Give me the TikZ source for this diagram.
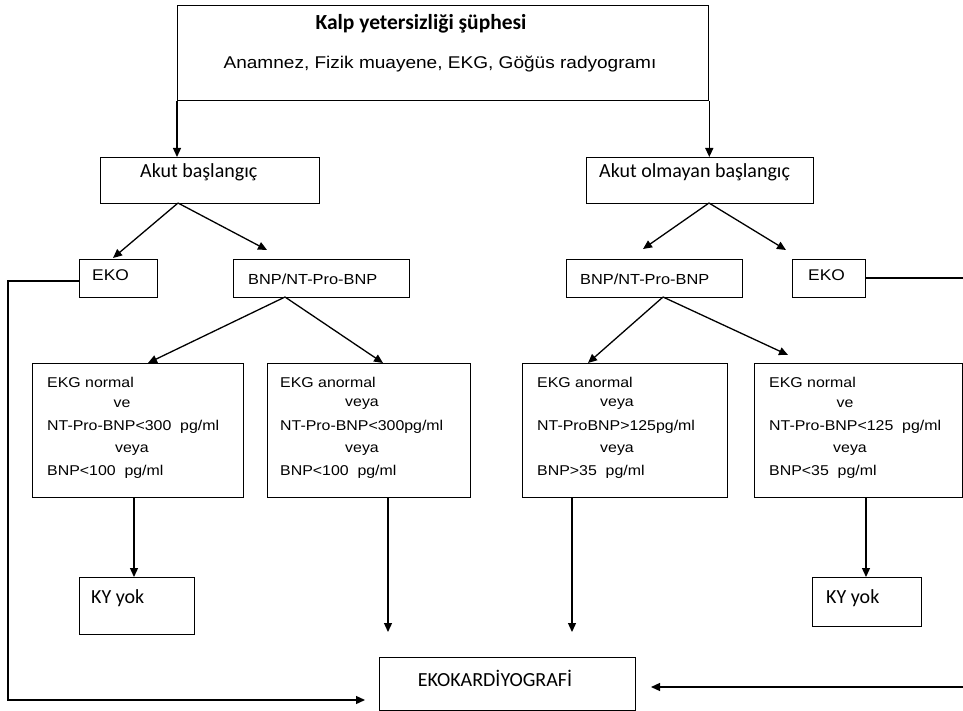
\documentclass[tikz,border=0pt]{standalone}
\usepackage{fontspec}
\setmainfont[FakeStretch=1.12]{Liberation Sans}
\newfontfamily\calfont{Carlito}
\usetikzlibrary{arrows.meta}
\begin{document}
\begin{tikzpicture}[x=1pt,y=-1pt,
  box/.style={draw, line width=1.3pt, inner sep=0pt, anchor=north west},
  arr/.style={line width=1.3pt, -{Triangle[length=9pt,width=8pt]}},
  txt/.style={inner sep=0pt, font=\fontsize{14.2}{16}\selectfont},
  ctxt/.style={inner sep=0pt, font=\calfont\fontsize{20}{22}\selectfont},
]
\useasboundingbox (0,0) rectangle (963,711);
\clip (0,0) rectangle (963,711);

% boxes
\node[box, minimum width=531pt, minimum height=95pt] (top) at (177,5) {};
\node[box, minimum width=219pt, minimum height=46pt] (akut) at (100,157) {};
\node[box, minimum width=227pt, minimum height=46pt] (nakut) at (586,157) {};
\node[box, minimum width=78pt, minimum height=38pt] (ekoL) at (79,259) {};
\node[box, minimum width=176pt, minimum height=38pt] (bnpL) at (233,259) {};
\node[box, minimum width=176pt, minimum height=38pt] (bnpR) at (566,259) {};
\node[box, minimum width=73pt, minimum height=38pt] (ekoR) at (792,259) {};
\node[box, minimum width=211pt, minimum height=134pt] (b1) at (32,363) {};
\node[box, minimum width=203pt, minimum height=134pt] (b2) at (267,363) {};
\node[box, minimum width=205pt, minimum height=134pt] (b3) at (522,363) {};
\node[box, minimum width=208pt, minimum height=134pt] (b4) at (754,363) {};
\node[box, minimum width=115pt, minimum height=57pt] (kyL) at (79,577) {};
\node[box, minimum width=109pt, minimum height=49pt] (kyR) at (812,577) {};
\node[box, minimum width=256pt, minimum height=53pt] (echo) at (379,657) {};

% texts
\node[inner sep=0pt, font=\calfont\bfseries\fontsize{21.5}{24}\selectfont] (tTitle) at (421,24) {Kalp yetersizliği şüphesi};
\node[inner sep=0pt, font=\fontsize{17}{20}\selectfont] (tAnam) at (440,64) {Anamnez, Fizik muayene, EKG, Göğüs radyogramı};
\node[ctxt, anchor=west] (tAkut) at (140,172) {Akut başlangıç};
\node[ctxt, anchor=west] (tNakut) at (599,172) {Akut olmayan başlangıç};
\node[txt, anchor=west, font=\fontsize{15.5}{18}\selectfont] (tEkoL) at (92,275) {EKO};
\node[txt, anchor=west, font=\fontsize{14.6}{17}\selectfont] (tBnpL) at (248,279) {BNP/NT-Pro-BNP};
\node[txt, anchor=west, font=\fontsize{14.6}{17}\selectfont] (tBnpR) at (580,279) {BNP/NT-Pro-BNP};
\node[txt, anchor=west, font=\fontsize{15.5}{18}\selectfont] (tEkoR) at (808,275) {EKO};

\node[txt, anchor=west] (b1a) at (47,382) {EKG normal};
\node[txt] (b1b) at (122,404) {ve};
\node[txt, anchor=west] (b1c) at (47,427) {NT-Pro-BNP<300\ \ pg/ml};
\node[txt] (b1d) at (132,450) {veya};
\node[txt, anchor=west] (b1e) at (47,472) {BNP<100\ \ pg/ml};

\node[txt, anchor=west] (b2a) at (280,382) {EKG anormal};
\node[txt] (b2b) at (362,404) {veya};
\node[txt, anchor=west] (b2c) at (280,427) {NT-Pro-BNP<300pg/ml};
\node[txt] (b2d) at (362,450) {veya};
\node[txt, anchor=west] (b2e) at (280,472) {BNP<100\ \ pg/ml};

\node[txt, anchor=west] (b3a) at (537,382) {EKG anormal};
\node[txt] (b3b) at (617,404) {veya};
\node[txt, anchor=west] (b3c) at (537,427) {NT-ProBNP>125pg/ml};
\node[txt] (b3d) at (617,450) {veya};
\node[txt, anchor=west] (b3e) at (537,472) {BNP>35\ \ pg/ml};

\node[txt, anchor=west] (b4a) at (769,382) {EKG normal};
\node[txt] (b4b) at (845,404) {ve};
\node[txt, anchor=west] (b4c) at (769,427) {NT-Pro-BNP<125\ \ pg/ml};
\node[txt] (b4d) at (850,450) {veya};
\node[txt, anchor=west] (b4e) at (769,472) {BNP<35\ \ pg/ml};

\node[ctxt, anchor=west] (tKyL) at (91,598) {KY yok};
\node[ctxt, anchor=west] (tKyR) at (826,598) {KY yok};
\node[ctxt] (tEcho) at (495,678) {EKOKARDİYOGRAFİ};

% helper coordinates
\coordinate (aL) at (178,203);
\coordinate (aLl) at (113,258);
\coordinate (aLr) at (267,250);
\coordinate (aR) at (709,203);
\coordinate (aRl) at (643,249);
\coordinate (aRr) at (786,250);
\coordinate (pL) at (285,297);
\coordinate (pLl) at (148,363);
\coordinate (pLr) at (383,363);
\coordinate (pR) at (663,297);
\coordinate (pRl) at (588,363);
\coordinate (pRr) at (788,355);
\coordinate (d2) at (388,632);
\coordinate (d3) at (572,632);
\coordinate (eL) at (8,0);
\coordinate (eLt) at (365,700);
\coordinate (eR) at (975,0);
\coordinate (eRt) at (651,687);

% connectors
\draw[arr] (top.south west) -- (top.south west |- akut.north);
\draw[arr] (top.south east) -- (top.south east |- nakut.north);
\draw[arr] (aL) -- (aLl);
\draw[arr] (aL) -- (aLr);
\draw[arr] (aR) -- (aRl);
\draw[arr] (aR) -- (aRr);
\draw[arr] (pL) -- (pLl);
\draw[arr] (pL) -- (pLr);
\draw[arr] (pR) -- (pRl);
\draw[arr] (pR) -- (pRr);
\draw[arr] (b1.south -| 134,0) -- (kyL.north -| 134,0);
\draw[arr] (b2.south -| d2) -- (d2);
\draw[arr] (b3.south -| d3) -- (d3);
\draw[arr] (b4.south -| 866,0) -- (kyR.north -| 866,0);
\draw[arr] (ekoL.west |- 0,281) -- (eL |- 0,281) -- (eL |- eLt) -- (eLt);
\draw[arr] (ekoR.east |- 0,278) -- (eR |- 0,278) -- (eR |- eRt) -- (eRt);
\end{tikzpicture}
\end{document}
